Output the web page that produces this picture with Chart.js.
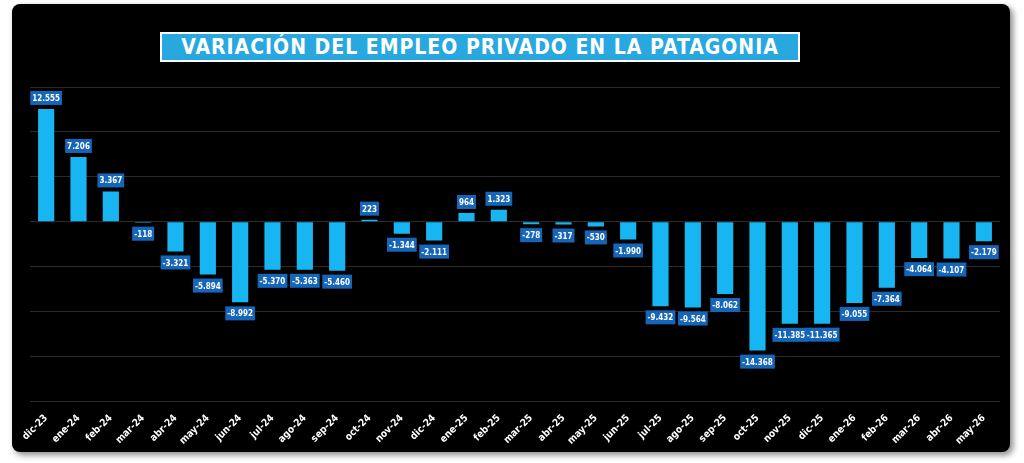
<!DOCTYPE html>
<html>
<head>
<meta charset="utf-8">
<script src="https://cdn.jsdelivr.net/npm/chart.js@4"></script>
<style>
  body { margin:0; background:#fff; width:1024px; height:463px; overflow:hidden; }
  #panel { position:absolute; left:12px; top:4px; width:998px; height:448px; background:#000;
           border-radius:8px; box-shadow:3px 3px 6px #888; }
  #title { position:absolute; left:160px; top:32px; width:640px; height:30px; background:#29a8e0;
           border:2px solid #fff; box-sizing:border-box; color:#fff; font:bold 21px "DejaVu Sans";
           font-stretch:condensed; letter-spacing:1px; text-align:center; line-height:26px; white-space:nowrap; }
  #wrap { position:absolute; left:12px; top:4px; width:998px; height:448px; }
</style>
</head>
<body>
<div id="panel"></div>
<div id="wrap"><canvas id="c" width="998" height="448"></canvas></div>
<div id="title">VARIACIÓN DEL EMPLEO PRIVADO EN LA PATAGONIA</div>
<script>
const meses = ["dic-23","ene-24","feb-24","mar-24","abr-24","may-24","jun-24","jul-24","ago-24","sep-24","oct-24","nov-24","dic-24",
  "ene-25","feb-25","mar-25","abr-25","may-25","jun-25","jul-25","ago-25","sep-25","oct-25","nov-25","dic-25",
  "ene-26","feb-26","mar-26","abr-26","may-26"];
const variacion = [12555,7206,3367,-118,-3321,-5894,-8992,-5370,-5363,-5460,223,-1344,-2111,
  964,1323,-278,-317,-530,-1990,-9432,-9564,-8062,-14368,-11385,-11365,-9055,-7364,-4064,-4107,-2179];

const fmt = v => v.toLocaleString('de-DE');

const etiquetas = {
  id:'etiquetas',
  afterDatasetsDraw(chart){
    const ctx = chart.ctx;
    const meta = chart.getDatasetMeta(0);
    ctx.save();
    ctx.font = 'bold 8px "DejaVu Sans Condensed"';
    ctx.textAlign = 'center';
    ctx.textBaseline = 'middle';
    meta.data.forEach((bar,i) => {
      const v = variacion[i];
      const t = fmt(v);
      const w = ctx.measureText(t).width + 4, h = 14;
      const cy = v >= 0 ? bar.y - 11 : bar.y + 11;
      ctx.fillStyle = '#1565b8';
      ctx.fillRect(bar.x - w/2, cy - h/2, w, h);
      ctx.fillStyle = '#fff';
      ctx.fillText(t, bar.x, cy + 1);
    });
    ctx.restore();
  }
};

const ctx = document.getElementById('c').getContext('2d');
new Chart(ctx, {
  type:'bar',
  data:{ labels:meses, datasets:[{ data:variacion, backgroundColor:'#17b6f2', barPercentage:0.5, categoryPercentage:1 }]},
  options:{
    responsive:false, animation:false,
    layout:{ padding:{ top:83, left:18, right:10, bottom:2 } },
    plugins:{ legend:{display:false}, tooltip:{enabled:false} },
    scales:{
      x:{ grid:{display:false}, border:{display:false},
          ticks:{ color:'#fff', font:{family:'DejaVu Sans Condensed', weight:'bold', size:10}, maxRotation:45, minRotation:45, autoSkip:false } },
      y:{ min:-20000, max:15000, grid:{ color:'#2a2a2a', drawTicks:false }, border:{display:false},
          ticks:{ display:false, stepSize:5000 } }
    }
  },
  plugins:[etiquetas]
});
</script>
</body>
</html>
